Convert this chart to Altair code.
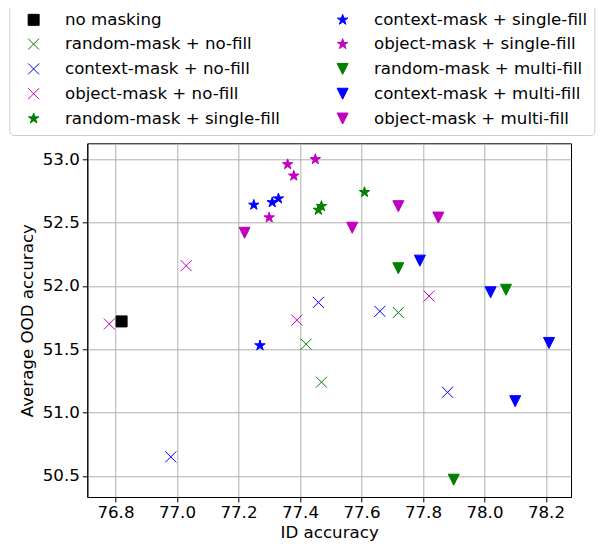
import math
import altair as alt
import pandas as pd

# ---- data ----
series_names = [
    "no masking",
    "random-mask + no-fill",
    "context-mask + no-fill",
    "object-mask + no-fill",
    "random-mask + single-fill",
    "context-mask + single-fill",
    "object-mask + single-fill",
    "random-mask + multi-fill",
    "context-mask + multi-fill",
    "object-mask + multi-fill",
]

no_masking_x = [76.82]
no_masking_y = [51.72]

random_nofill_x = [77.42, 77.47, 77.72]
random_nofill_y = [51.54, 51.24, 51.79]

context_nofill_x = [77.46, 77.66, 77.88, 76.98]
context_nofill_y = [51.87, 51.80, 51.16, 50.65]

object_nofill_x = [76.78, 77.03, 77.39, 77.82]
object_nofill_y = [51.70, 52.16, 51.73, 51.92]

random_single_x = [77.46, 77.47, 77.61]
random_single_y = [52.60, 52.63, 52.74]

context_single_x = [77.25, 77.31, 77.33, 77.27]
context_single_y = [52.64, 52.66, 52.69, 51.53]

object_single_x = [77.36, 77.38, 77.45, 77.30]
object_single_y = [52.96, 52.87, 53.00, 52.54]

random_multi_x = [77.72, 78.07, 77.90]
random_multi_y = [52.14, 51.97, 50.47]

context_multi_x = [77.79, 78.02, 78.21, 78.10]
context_multi_y = [52.20, 51.95, 51.55, 51.09]

object_multi_x = [77.22, 77.57, 77.72, 77.85]
object_multi_y = [52.42, 52.46, 52.63, 52.54]

x_ticks = [76.8, 77.0, 77.2, 77.4, 77.6, 77.8, 78.0, 78.2]
y_ticks = [50.5, 51.0, 51.5, 52.0, 52.5, 53.0]

xs = [no_masking_x, random_nofill_x, context_nofill_x, object_nofill_x,
      random_single_x, context_single_x, object_single_x,
      random_multi_x, context_multi_x, object_multi_x]
ys = [no_masking_y, random_nofill_y, context_nofill_y, object_nofill_y,
      random_single_y, context_single_y, object_single_y,
      random_multi_y, context_multi_y, object_multi_y]

rows = []
for name, sx, sy in zip(series_names, xs, ys):
    for a, b in zip(sx, sy):
        rows.append({"method": name, "id": a, "ood": b})
df = pd.DataFrame(rows)

# ---- styles ----
K, G, B, M = "#000000", "#008000", "#0000ff", "#bf00bf"
XPATH = "M-1,-1L1,1M1,-1L-1,1"
TRI = "M-1,-1L1,-1L0,1Z"
pts = []
for i in range(10):
    r = 1.0 if i % 2 == 0 else 0.381966
    ang = -math.pi / 2 + i * math.pi / 5
    pts.append(f"{r*math.cos(ang):.4f},{r*math.sin(ang):.4f}")
STAR = "M" + "L".join(pts) + "Z"

style = {
    "no masking": (K, "square"),
    "random-mask + no-fill": (G, XPATH),
    "context-mask + no-fill": (B, XPATH),
    "object-mask + no-fill": (M, XPATH),
    "random-mask + single-fill": (G, STAR),
    "context-mask + single-fill": (B, STAR),
    "object-mask + single-fill": (M, STAR),
    "random-mask + multi-fill": (G, TRI),
    "context-mask + multi-fill": (B, TRI),
    "object-mask + multi-fill": (M, TRI),
}

order = series_names  # vega fills legend columns top-to-bottom
colors = [style[n][0] for n in order]
shapes = [style[n][1] for n in order]

FONT = "DejaVu Sans"
FS = 16.67

leg = alt.Legend(
    orient="none", legendX=-78, legendY=-139.3, columns=2, title=None,
    labelFontSize=FS, labelFont=FONT, labelColor="black", labelLimit=0,
    symbolSize=121, symbolStrokeWidth=1, symbolOpacity=1,
    rowPadding=6.8, columnPadding=45, padding=7,
    strokeColor="#cccccc", fillColor="white", cornerRadius=4,
    labelOffset=23, symbolOffset=9,
)

chart = alt.Chart(df).mark_point(filled=True, size=121, strokeWidth=1, opacity=1).encode(
    x=alt.X("id:Q", title="ID accuracy",
            scale=alt.Scale(domain=[76.7085, 78.2815], nice=False, zero=False),
            axis=alt.Axis(values=x_ticks, format=".1f")),
    y=alt.Y("ood:Q", title="Average OOD accuracy",
            scale=alt.Scale(domain=[50.3335, 53.1265], nice=False, zero=False),
            axis=alt.Axis(values=y_ticks, format=".1f")),
    fill=alt.Fill("method:N", scale=alt.Scale(domain=order, range=colors), legend=leg),
    stroke=alt.Stroke("method:N", scale=alt.Scale(domain=order, range=colors), legend=leg),
    shape=alt.Shape("method:N", scale=alt.Scale(domain=order, range=shapes), legend=leg),
).properties(
    width=483.7, height=353.7,
    autosize=alt.AutoSizeParams(type="none"),
    padding={"left": 79.3, "top": 135.3, "right": 26, "bottom": 47},
).configure_view(
    stroke="black", strokeWidth=1
).configure_axis(
    grid=True, gridColor="#b0b0b0", gridWidth=1,
    domainColor="black", domainWidth=1,
    tickColor="black", tickSize=5, tickWidth=1,
    labelFont=FONT, labelFontSize=FS, labelColor="black",
    titleFont=FONT, titleFontSize=FS, titleFontWeight="normal", titleColor="black",
).configure_axisX(
    labelPadding=2, titlePadding=4,
).configure_axisY(
    labelPadding=3, titlePadding=6,
)

chart.save("out.html", embed_options={"renderer": "svg", "actions": False})
